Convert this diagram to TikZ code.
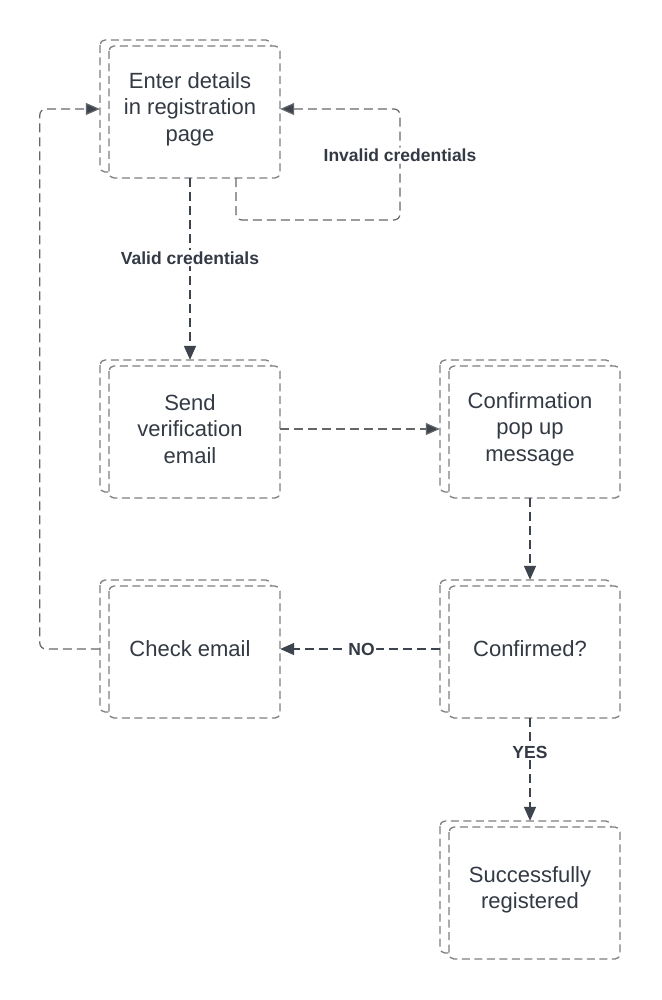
\documentclass[tikz,border=0pt]{standalone}
\usepackage{fontspec}
\setmainfont{Liberation Sans}
\usetikzlibrary{arrows.meta}
\definecolor{boxgray}{HTML}{7E7E7E}
\definecolor{linedark}{HTML}{3D444D}
\definecolor{txtdark}{HTML}{333A44}
\tikzset{
  boxline/.style={draw=boxgray, line width=1.3pt, dash pattern=on 8pt off 4.5pt, rounded corners=5pt},
  boxtext/.style={inner sep=0pt, minimum width=180pt, minimum height=138pt, align=center, text=txtdark,
    font=\fontsize{22}{26.5}\selectfont},
  conn/.style={draw=linedark, line width=1.5pt, dash pattern=on 9pt off 5pt, rounded corners=6pt,
    -{Triangle[length=14pt,width=12pt]}},
  connthin/.style={draw=boxgray!60!linedark, line width=1.2pt, dash pattern=on 9pt off 5pt, rounded corners=6pt,
    -{Triangle[length=14pt,width=12pt,fill=linedark]}},
  lbl/.style={fill=white, inner sep=1.5pt, text=txtdark, font=\bfseries\fontsize{17.5}{20}\selectfont},
}
\newcommand\dblbox[4]{%
  \draw[boxline] (#2,#3) rectangle ++(171,132);
  \draw[boxline,fill=white] (#2+9,#3+6) rectangle ++(171,132);
  \node[boxtext] (#1) at (#2+90,#3+69) {#4};
}
\begin{document}
\begin{tikzpicture}[x=1pt,y=-1pt]
\useasboundingbox[fill=white] (0,0) rectangle (661,1000);
\dblbox{e}{100}{40}{Enter details\\in registration\\page}
\dblbox{s}{100}{360}{Send\\verification\\email}
\dblbox{m}{440}{360}{Confirmation\\pop up\\message}
\dblbox{c}{100}{580}{Check email}
\dblbox{q}{440}{580}{Confirmed?}
\dblbox{r}{440}{821}{Successfully\\registered}
\coordinate (i1) at (400,220);
\coordinate (i2) at (400,109);
\draw[conn] (e.south) -- node[lbl,pos=0.44]{Valid credentials} (s.north);
\draw[connthin] ([xshift=46pt]e.south) |- (i1) -- node[lbl,pos=0.58]{Invalid credentials} (i2) -- (e.east);
\draw[connthin] (s.east) -- (m.west);
\draw[conn] (m.south) -- (q.north);
\draw[conn] (q.west) -- node[lbl,pos=0.49]{NO} (c.east);
\draw[conn] (q.south) -- node[lbl,pos=0.33]{YES} (r.north);
\draw[connthin] (c.west) -- ++(-60,0) |- (e.west);
\end{tikzpicture}
\end{document}
